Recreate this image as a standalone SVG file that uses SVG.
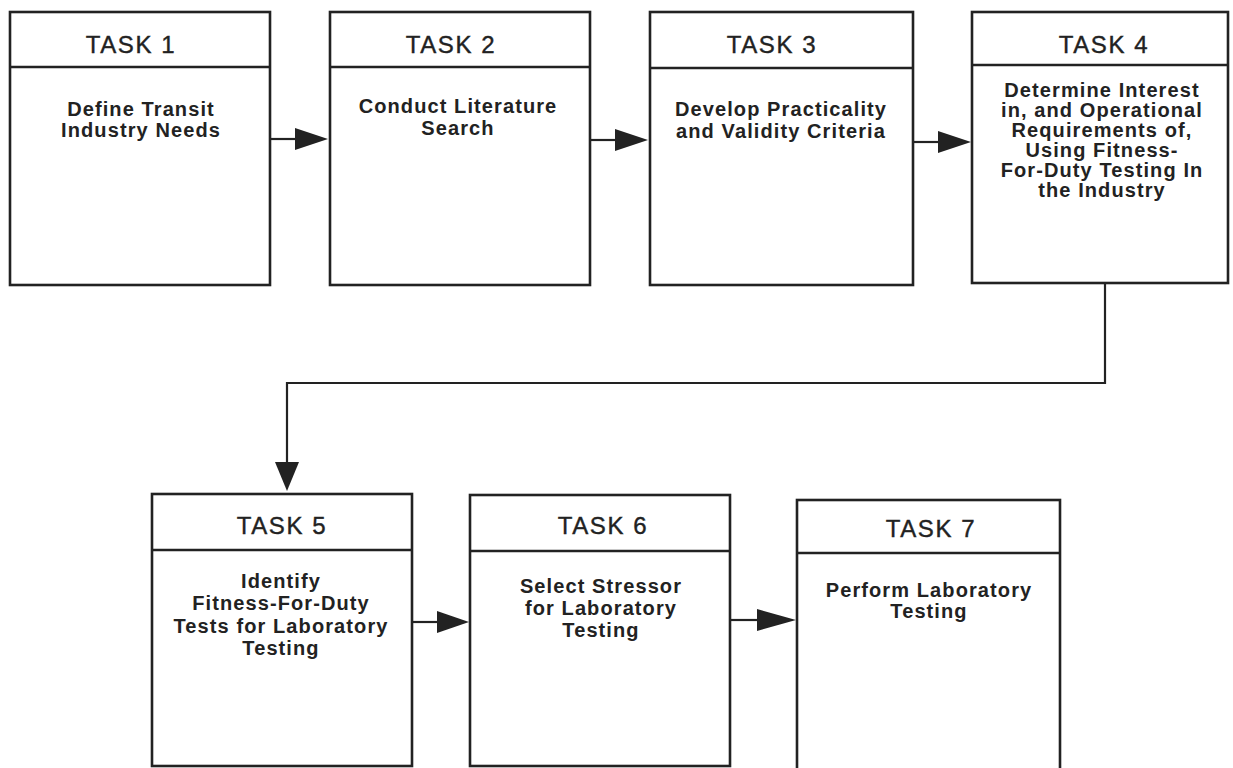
<svg xmlns="http://www.w3.org/2000/svg" width="1233" height="768" viewBox="0 0 1233 768">
<style>
.box{fill:#fff;stroke:#222;stroke-width:2.6}
.div{stroke:#222;stroke-width:2.4}
.hd{font-family:"Liberation Sans",Arial,sans-serif;font-size:24px;fill:#222;stroke:#222;stroke-width:0.4;text-anchor:middle;letter-spacing:1.6px}
.bd{font-family:"Liberation Sans",Arial,sans-serif;font-size:20px;font-weight:bold;fill:#222;text-anchor:middle;letter-spacing:1.1px}
.ln{fill:none;stroke:#222;stroke-width:2.2}
.ah{fill:#222}
</style>
<rect width="1233" height="768" fill="#fff"/>
<g id="task1">
<rect class="box" x="10" y="12" width="260" height="273"/>
<line class="div" x1="10" y1="67" x2="270" y2="67"/>
<text class="hd" x="131" y="53">TASK 1</text>
<text class="bd" x="141" y="116">Define Transit</text>
<text class="bd" x="141" y="137">Industry Needs</text>
</g>
<g id="task2">
<rect class="box" x="330" y="12" width="260" height="273"/>
<line class="div" x1="330" y1="67" x2="590" y2="67"/>
<text class="hd" x="451" y="53">TASK 2</text>
<text class="bd" x="458" y="113">Conduct Literature</text>
<text class="bd" x="458" y="135">Search</text>
</g>
<g id="task3">
<rect class="box" x="650" y="12" width="263" height="273"/>
<line class="div" x1="650" y1="68" x2="913" y2="68"/>
<text class="hd" x="772" y="53">TASK 3</text>
<text class="bd" x="781" y="116">Develop Practicality</text>
<text class="bd" x="781" y="138">and Validity Criteria</text>
</g>
<g id="task4">
<rect class="box" x="972" y="12" width="256" height="271"/>
<line class="div" x1="972" y1="65" x2="1228" y2="65"/>
<text class="hd" x="1104" y="53">TASK 4</text>
<text class="bd" x="1102" y="97">Determine Interest</text>
<text class="bd" x="1102" y="117">in, and Operational</text>
<text class="bd" x="1102" y="137">Requirements of,</text>
<text class="bd" x="1102" y="157">Using Fitness-</text>
<text class="bd" x="1102" y="177">For-Duty Testing In</text>
<text class="bd" x="1102" y="197">the Industry</text>
</g>
<g id="task5">
<rect class="box" x="152" y="494" width="260" height="272"/>
<line class="div" x1="152" y1="550" x2="412" y2="550"/>
<text class="hd" x="282" y="534">TASK 5</text>
<text class="bd" x="281" y="588">Identify</text>
<text class="bd" x="281" y="610">Fitness-For-Duty</text>
<text class="bd" x="281" y="633">Tests for Laboratory</text>
<text class="bd" x="281" y="655">Testing</text>
</g>
<g id="task6">
<rect class="box" x="470" y="495" width="260" height="271"/>
<line class="div" x1="470" y1="551" x2="730" y2="551"/>
<text class="hd" x="603" y="534">TASK 6</text>
<text class="bd" x="601" y="593">Select Stressor</text>
<text class="bd" x="601" y="615">for Laboratory</text>
<text class="bd" x="601" y="637">Testing</text>
</g>
<g id="task7">
<rect class="box" x="797" y="500" width="263" height="272"/>
<line class="div" x1="797" y1="553" x2="1060" y2="553"/>
<text class="hd" x="931" y="537">TASK 7</text>
<text class="bd" x="929" y="597">Perform Laboratory</text>
<text class="bd" x="929" y="618">Testing</text>
</g>
<g id="connectors">
<line class="ln" x1="270" y1="139" x2="296" y2="139"/>
<polygon class="ah" points="295,128 328,139 295,150"/>
<line class="ln" x1="590" y1="140" x2="616" y2="140"/>
<polygon class="ah" points="615,129 648,140 615,151"/>
<line class="ln" x1="913" y1="142" x2="939" y2="142"/>
<polygon class="ah" points="938,131 971,142 938,153"/>
<polyline class="ln" points="1105,283 1105,383 287,383 287,463"/>
<polygon class="ah" points="275,462 299,462 287,491"/>
<line class="ln" x1="412" y1="622" x2="438" y2="622"/>
<polygon class="ah" points="437,611 469,622 437,633"/>
<line class="ln" x1="730" y1="620" x2="758" y2="620"/>
<polygon class="ah" points="757,609 796,620 757,631"/>
</g>
</svg>
